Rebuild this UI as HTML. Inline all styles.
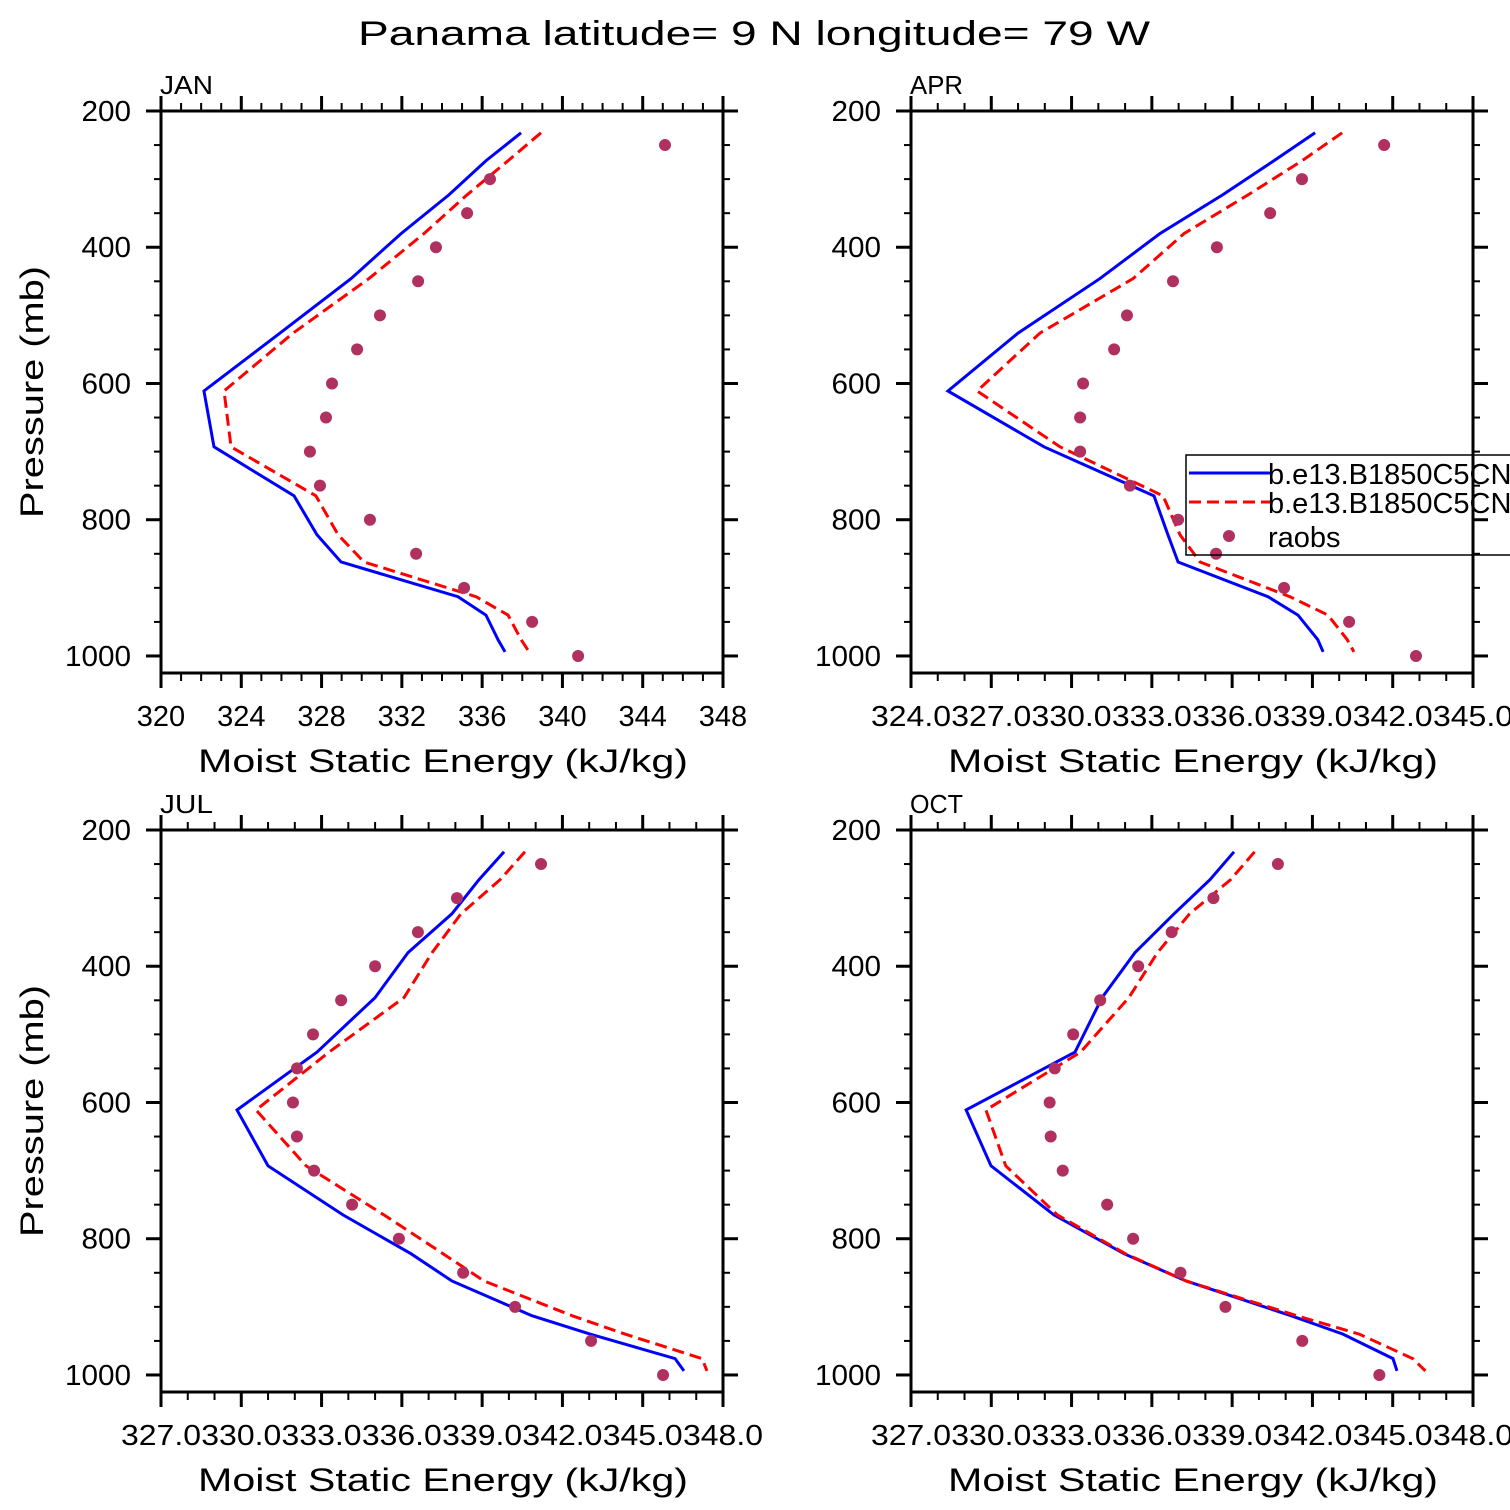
<!DOCTYPE html>
<html><head><meta charset="utf-8"><style>
html,body{margin:0;padding:0;background:#fff}
svg{display:block}
text{font-family:"Liberation Sans",sans-serif;fill:#000}
</style></head><body>
<svg id="chart" width="1510" height="1510" viewBox="0 0 1510 1510" xmlns="http://www.w3.org/2000/svg">
<text x="358" y="45" font-size="34" textLength="792" lengthAdjust="spacingAndGlyphs">Panama  latitude= 9 N longitude= 79 W</text>
<g id="plots"></g>
</svg>
<script>
const levels = [232,273,323,380,446,526,611,693,765,822,862,913,940,976,994];
const obsLevels = [250,300,350,400,450,500,550,600,650,700,750,800,850,900,950,1000];
const panelNames = ["JAN","APR","JUL","OCT"];
const janModel1 = [337.94,336.19,334.35,331.96,329.47,325.93,322.14,322.64,326.63,327.77,328.97,334.80,336.19,336.79,337.14];
const janModel2 = [338.93,337.29,335.25,333.10,330.36,326.58,323.14,323.49,327.72,328.82,330.11,335.70,337.29,337.94,338.34];
const janObs = [345.11,336.39,335.25,333.70,332.81,330.91,329.77,328.52,328.22,327.42,327.92,330.41,332.71,335.10,338.49,340.78];
const aprModel1 = [339.10,337.56,335.65,333.30,331.06,328.00,325.38,328.97,333.08,333.60,333.98,337.34,338.46,339.20,339.40];
const aprModel2 = [340.11,338.61,336.60,334.20,332.30,328.82,326.47,329.57,333.42,334.05,334.80,338.16,339.58,340.30,340.55];
const aprObs = [341.68,338.61,337.42,335.43,333.79,332.07,331.59,330.43,330.32,330.32,332.18,333.98,335.40,337.94,340.37,342.87];
const julModel1 = [339.82,338.88,337.87,336.23,335.00,332.83,329.84,331.00,333.80,336.34,337.87,340.86,343.03,346.21,346.54];
const julModel2 = [340.60,339.67,338.21,337.13,336.08,333.28,330.55,332.42,335.33,337.54,339.07,342.36,344.34,347.22,347.40];
const julObs = [341.20,338.06,336.60,335.00,333.73,332.68,332.08,331.93,332.08,332.72,334.14,335.89,338.29,340.23,343.07,345.76];
const octModel1 = [339.07,338.17,336.83,335.37,334.14,333.13,329.06,329.99,332.34,334.96,337.28,341.20,343.14,345.01,345.16];
const octModel2 = [339.84,338.94,337.41,336.21,335.14,333.34,329.80,330.54,332.47,335.01,337.28,341.41,343.75,345.75,346.22];
const octObs = [340.71,338.30,336.74,335.49,334.07,333.06,332.37,332.18,332.22,332.67,334.33,335.30,337.07,338.75,341.62,344.50];
const janXTicks = ["320","324","328","332","336","340","344","348"];
const aprXTicks = ["324.0","327.0","330.0","333.0","336.0","339.0","342.0","345.0"];
const julXTicks = ["327.0","330.0","333.0","336.0","339.0","342.0","345.0","348.0"];
const octXTicks = ["327.0","330.0","333.0","336.0","339.0","342.0","345.0","348.0"];
const yTicks = ["200","400","600","800","1000"];
const legendLabels = ["b.e13.B1850C5CN.f19_g16.001","b.e13.B1850C5CN.f19_g16.002","raobs"];

const NS="http://www.w3.org/2000/svg";
const root=document.getElementById('plots');
function mk(tag,attrs,parent){const e=document.createElementNS(NS,tag);for(const k in attrs)e.setAttribute(k,attrs[k]);(parent||root).appendChild(e);return e;}

const panels=[
 {x0:161,y0:111,xmin:320,xmax:348,major:4,ticks:janXTicks,m1:janModel1,m2:janModel2,obs:janObs,ylab:true},
 {x0:911,y0:111,xmin:324,xmax:345,major:3,ticks:aprXTicks,m1:aprModel1,m2:aprModel2,obs:aprObs,ylab:false},
 {x0:161,y0:830,xmin:327,xmax:348,major:3,ticks:julXTicks,m1:julModel1,m2:julModel2,obs:julObs,ylab:true},
 {x0:911,y0:830,xmin:327,xmax:348,major:3,ticks:octXTicks,m1:octModel1,m2:octModel2,obs:octObs,ylab:false}
];
const W=562,H=562,PMIN=200,PMAX=1025;

panels.forEach((P,i)=>{
  const g=mk('g',{});
  
  
  const xs=v=>P.x0+(v-P.xmin)/(P.xmax-P.xmin)*W;
  const ys=p=>P.y0+(p-PMIN)/(PMAX-PMIN)*H;
  const cid='clip'+i;
  const cp=mk('clipPath',{id:cid},g);
  mk('rect',{x:P.x0,y:P.y0,width:W,height:H},cp);
  const plot=mk('g',{'clip-path':'url(#'+cid+')'},g);
  
  
  const l1=mk('polyline',{points:P.m1.map((v,k)=>xs(v)+','+ys(levels[k])).join(' '),fill:'none',stroke:'#0000ff','stroke-width':3,'stroke-linejoin':'miter'},plot);
  
  
  const l2=mk('polyline',{points:P.m2.map((v,k)=>xs(v)+','+ys(levels[k])).join(' '),fill:'none',stroke:'#ff0000','stroke-width':3,'stroke-dasharray':'12,6'},plot);
  
  
  P.obs.forEach((v,k)=>{
    const c=mk('circle',{cx:xs(v),cy:ys(obsLevels[k]),r:6,fill:'#b03060'},plot);
    
    
  });
  const fr=mk('rect',{x:P.x0,y:P.y0,width:W,height:H,fill:'none',stroke:'#000','stroke-width':3},g);
  
  
  for(let v=P.xmin;v<=P.xmax+1e-9;v+=1){
    const isM=Math.abs(((v-P.xmin)%P.major))<1e-9;
    const x=xs(v),L=isM?15:8;
    mk('line',{x1:x,y1:P.y0,x2:x,y2:P.y0-L,stroke:'#000','stroke-width':isM?3:2},g);
    mk('line',{x1:x,y1:P.y0+H,x2:x,y2:P.y0+H+L,stroke:'#000','stroke-width':isM?3:2},g);
  }
  P.ticks.forEach((t,k)=>{
    const v=P.xmin+k*P.major;
    const a={x:xs(v),y:P.y0+H+53,'font-size':29,'text-anchor':'middle'};
    if(t.length>3){a.textLength=80;a.lengthAdjust='spacingAndGlyphs';}
    const tx=mk('text',a,g);tx.textContent=t;
    
    
  });
  for(let p=200;p<=1000;p+=50){
    const isM=p%200===0;const y=ys(p),L=isM?15:7;
    mk('line',{x1:P.x0,y1:y,x2:P.x0-L,y2:y,stroke:'#000','stroke-width':isM?3:2},g);
    mk('line',{x1:P.x0+W,y1:y,x2:P.x0+W+L,y2:y,stroke:'#000','stroke-width':isM?3:2},g);
  }
  yTicks.forEach(t=>{
    const tx=mk('text',{x:P.x0-30,y:ys(+t)+10,'font-size':29,'text-anchor':'end',textLength:t.length*16.5,lengthAdjust:'spacingAndGlyphs'},g);
    tx.textContent=t;
    
    
  });
  const xt=mk('text',{x:P.x0+37,y:P.y0+H+99,'font-size':32,textLength:490,lengthAdjust:'spacingAndGlyphs'},g);
  xt.textContent='Moist Static Energy (kJ/kg)';
  
  
  if(P.ylab){
    const yt=mk('text',{x:0,y:0,'font-size':32,'text-anchor':'middle',textLength:252,lengthAdjust:'spacingAndGlyphs',transform:'translate('+(P.x0-118)+','+(P.y0+281)+') rotate(-90)'},g);
    yt.textContent='Pressure (mb)';
    
    
  }
  const pl=mk('text',{x:P.x0-1,y:P.y0-17,'font-size':26,textLength:53,lengthAdjust:'spacingAndGlyphs'},g);
  pl.textContent=panelNames[i];
  
  
});

const lg=mk('g',{});


mk('rect',{x:1186,y:455,width:340,height:100,fill:'none',stroke:'#000','stroke-width':1.5},lg);
mk('line',{x1:1189,y1:473,x2:1270,y2:473,stroke:'#0000ff','stroke-width':3},lg);
mk('line',{x1:1189,y1:502,x2:1270,y2:502,stroke:'#ff0000','stroke-width':3,'stroke-dasharray':'12,6'},lg);
mk('circle',{cx:1229,cy:536,r:6,fill:'#b03060'},lg);
[484,513,547].forEach((y,k)=>{
  const t=mk('text',{x:1268,y:y,'font-size':29},lg);
  t.textContent=legendLabels[k];
  
  
});
mk('line',{x1:1473,y1:440,x2:1473,y2:570,stroke:'#000','stroke-width':3});
</script>
</body></html>
